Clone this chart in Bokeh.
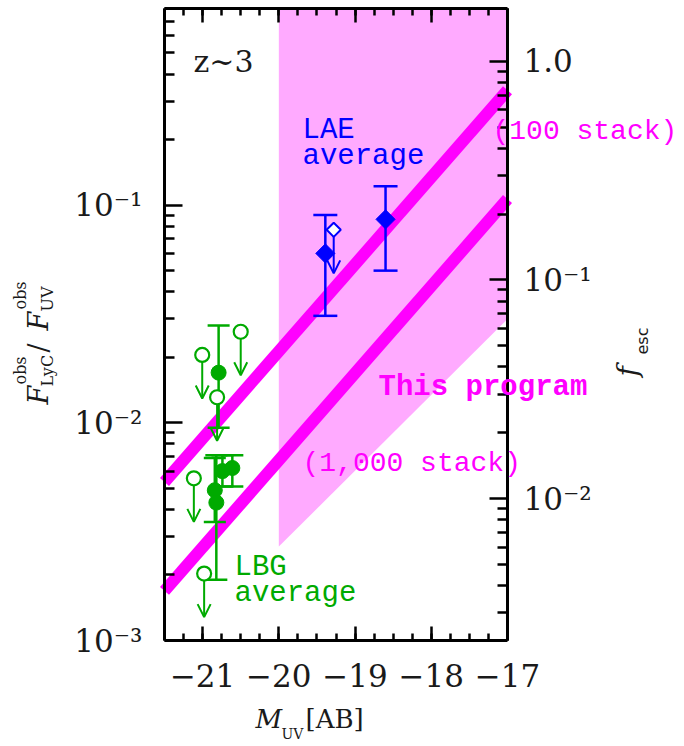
import numpy as np
from bokeh.plotting import figure
from bokeh.models import (Range1d, LogScale, LogAxis, LinearAxis, FixedTicker,
                          CustomJSTickFormatter, ColumnDataSource, Whisker, TeeHead,
                          Arrow, OpenHead, Label)
from bokeh.embed import file_html
from bokeh.resources import INLINE

# ---------------- data ----------------
x_ticks = [-21, -20, -19, -18, -17]
x_tick_labels = ["−21", "−20", "−19", "−18", "−17"]
y_ticks = [0.001, 0.01, 0.1]
y_tick_labels = ["10⁻³", "10⁻²", "10⁻¹"]
fesc_ticks = [0.01, 0.1, 1.0]
fesc_tick_labels = ["10⁻²", "10⁻¹", "1.0"]

limit_mag = [-21.5, -17.0]
limit_100_stack = [0.00535, 0.337]
limit_1000_stack = [0.00169, 0.1066]

program_mag = [-20.0, -17.0]
program_floor = [0.0027, 0.030]

lae_mag = [-19.39, -18.60]
lae_ratio = [0.060, 0.086]
lae_err_lo = [0.031, 0.050]
lae_err_hi = [0.090, 0.122]
lae_lim_mag = [-19.28]
lae_lim_ratio = [0.077]

lbg_mag = [-20.79, -20.61, -20.74, -20.84, -20.82]
lbg_ratio = [0.017, 0.0062, 0.0060, 0.0049, 0.0043]
lbg_err_lo = [0.0095, 0.0051, 0.0051, 0.0035, 0.0019]
lbg_err_hi = [0.028, 0.0071, 0.0071, 0.0069, 0.0071]
lbg_lim_mag = [-20.50, -21.005, -20.81, -21.115, -20.98]
lbg_lim_ratio = [0.0262, 0.0205, 0.0131, 0.00556, 0.00203]

ARROW_DEX = 0.2  # length of upper-limit arrows

# ---------------- layout ----------------
W, H = 684, 746
FL, FR, FT, FB = 164, 507, 8, 640          # visible plot box in pixels
X0, X1 = -21.5, -17.0
Y0, Y1 = 1e-3, 0.8
F0, F1 = 0.002242, 1.742


def px2x(px):
    return X0 + (px - FL) / (FR - FL) * (X1 - X0)


def px2y(py, lo=Y0, hi=Y1):
    l0, l1 = np.log10(lo), np.log10(hi)
    return 10 ** (l1 - (py - FT) / (FB - FT) * (l1 - l0))


# the frame spans the whole canvas; axes are pinned to the plot box
p = figure(width=W, height=H,
           x_range=Range1d(px2x(0), px2x(W)),
           y_range=Range1d(px2y(H), px2y(0)),
           y_axis_type="log", output_backend="svg", toolbar_location=None,
           min_border=0)
p.xgrid.visible = False
p.ygrid.visible = False
p.outline_line_color = None
p.background_fill_color = "white"
p.border_fill_color = "white"
p.extra_y_ranges = {"fesc": Range1d(px2y(H, F0, F1), px2y(0, F0, F1))}
p.extra_y_scales = {"fesc": LogScale()}

LIN_CODE = """
let b = 0;
for (let i = 0; i < vals.length; i++) {
  if (Math.abs(vals[i] - tick) < Math.abs(vals[b] - tick)) b = i;
}
return labs[b];
"""
LOG_CODE = """
let b = 0;
for (let i = 0; i < vals.length; i++) {
  if (Math.abs(Math.log(vals[i] / tick)) < Math.abs(Math.log(vals[b] / tick))) b = i;
}
return labs[b];
"""

x_minor = list(np.arange(-21.5, -16.99, 0.25))
y_minor = [k * 10.0 ** e for e in (-3, -2, -1) for k in range(2, 10) if k * 10.0 ** e <= Y1]
f_minor = [k * 10.0 ** e for e in (-3, -2, -1) for k in range(2, 10) if k * 10.0 ** e >= F0]

TICK_FONT = "DejaVu Serif"


def style(ax, major_in, minor_in, standoff, size="31px"):
    ax.axis_line_color = "black"
    ax.axis_line_width = 3
    ax.major_tick_in = major_in
    ax.major_tick_out = 0
    ax.minor_tick_in = minor_in
    ax.minor_tick_out = 0
    ax.major_tick_line_width = 2.5
    ax.minor_tick_line_width = 2.5
    ax.major_tick_line_color = "black"
    ax.minor_tick_line_color = "black"
    ax.major_label_standoff = standoff
    ax.major_label_text_font = TICK_FONT
    ax.major_label_text_font_size = size
    ax.major_label_text_color = "#1a1a1a"


xa = p.xaxis[0]
xa.ticker = FixedTicker(ticks=x_ticks, minor_ticks=x_minor)
xa.formatter = CustomJSTickFormatter(args=dict(vals=x_ticks, labs=x_tick_labels), code=LIN_CODE)
xa.fixed_location = Y0
xa.bounds = (X0, X1)
style(xa, 14, 7, 23)

ya = p.yaxis[0]
ya.ticker = FixedTicker(ticks=y_ticks, minor_ticks=y_minor)
ya.formatter = CustomJSTickFormatter(args=dict(vals=y_ticks, labs=y_tick_labels), code=LOG_CODE)
ya.fixed_location = X0
ya.bounds = (Y0, Y1)
style(ya, 18, 10, 22)

top = LinearAxis(ticker=FixedTicker(ticks=x_ticks, minor_ticks=x_minor),
                 formatter=CustomJSTickFormatter(code="return '';"),
                 fixed_location=Y1, bounds=(X0, X1))
style(top, 14, 7, 0, size="0px")
p.add_layout(top, "above")

ra = LogAxis(y_range_name="fesc", ticker=FixedTicker(ticks=fesc_ticks, minor_ticks=f_minor),
             formatter=CustomJSTickFormatter(args=dict(vals=fesc_ticks, labs=fesc_tick_labels),
                                             code=LOG_CODE),
             fixed_location=X1, bounds=(F0, F1))
style(ra, 18, 10, 16)
p.add_layout(ra, "right")

# ---------------- marks ----------------
MAG = "#ff00ff"
PINK = "#ffaaff"
BLUE = "#0000ff"
GREEN = "#00aa00"

band_x = [program_mag[0], program_mag[1], program_mag[1], program_mag[0]]
band_y = [program_floor[0], program_floor[1], Y1, Y1]
p.patch(band_x, band_y, fill_color=PINK, line_color=None, level="image")

p.line(limit_mag, limit_100_stack, line_color=MAG, line_width=12, level="image")
p.line(limit_mag, limit_1000_stack, line_color=MAG, line_width=12, level="image")

fac = 10 ** (-ARROW_DEX)

# LAE
lae_src = ColumnDataSource(dict(x=lae_mag, y=lae_ratio, lo=lae_err_lo, hi=lae_err_hi))
p.add_layout(Whisker(base="x", lower="lo", upper="hi", source=lae_src, dimension="height",
                     line_color=BLUE, line_width=2.5, level="underlay",
                     upper_head=TeeHead(size=24, line_color=BLUE, line_width=2.5),
                     lower_head=TeeHead(size=24, line_color=BLUE, line_width=2.5)))
lae_lim_src = ColumnDataSource(dict(x=lae_lim_mag, y=lae_lim_ratio,
                                    ye=[v * fac for v in lae_lim_ratio]))
p.add_layout(Arrow(x_start="x", y_start="y", x_end="x", y_end="ye", source=lae_lim_src,
                   line_color=BLUE, line_width=2, level="underlay",
                   end=OpenHead(size=13, line_color=BLUE, line_width=2)))
p.scatter("x", "y", source=lae_src, marker="square", angle=np.pi / 4, size=13.5,
          fill_color=BLUE, line_color=BLUE)
p.scatter("x", "y", source=lae_lim_src, marker="square", angle=np.pi / 4, size=10,
          fill_color="white", line_color=BLUE, line_width=2)

# LBG
lbg_src = ColumnDataSource(dict(x=lbg_mag, y=lbg_ratio, lo=lbg_err_lo, hi=lbg_err_hi))
p.add_layout(Whisker(base="x", lower="lo", upper="hi", source=lbg_src, dimension="height",
                     line_color=GREEN, line_width=2.5, level="underlay",
                     upper_head=TeeHead(size=22, line_color=GREEN, line_width=2.5),
                     lower_head=TeeHead(size=22, line_color=GREEN, line_width=2.5)))
lbg_lim_src = ColumnDataSource(dict(x=lbg_lim_mag, y=lbg_lim_ratio,
                                    ye=[v * fac for v in lbg_lim_ratio]))
p.add_layout(Arrow(x_start="x", y_start="y", x_end="x", y_end="ye", source=lbg_lim_src,
                   line_color=GREEN, line_width=2, level="underlay",
                   end=OpenHead(size=13, line_color=GREEN, line_width=2)))
p.scatter("x", "y", source=lbg_src, marker="circle", size=15,
          fill_color=GREEN, line_color=GREEN)
p.scatter("x", "y", source=lbg_lim_src, marker="circle", size=14,
          fill_color="white", line_color=GREEN, line_width=2.2)


# ---------------- text ----------------
def lab(text, px, py, size, font="DejaVu Serif", style_="normal", color="#1a1a1a", angle=0.0):
    # px, py: wanted baseline start in pixels; compensate the renderer's baseline offset
    if angle == 0.0:
        py = py - 0.33 * size
    else:
        px = px - 0.33 * size
    p.add_layout(Label(x=px2x(px), y=px2y(py), text=text, text_font=font,
                       text_font_size=f"{size}px", text_font_style=style_,
                       text_color=color, angle=angle,
                       text_align="left", text_baseline="alphabetic"))


MONO = "Liberation Mono"
lab("z∼3", 193, 71, 30)
lab("LAE", 302, 140, 29, MONO, color=BLUE)
lab("average", 302, 166, 29, MONO, color=BLUE)
lab("LBG", 234, 577, 29, MONO, color=GREEN)
lab("average", 234, 603, 29, MONO, color=GREEN)
lab("This program", 378, 397, 29, MONO, "bold", MAG)
lab("(1,000 stack)", 302, 472, 28, MONO, color=MAG)
lab("(100 stack)", 492, 140, 28, MONO, color=MAG)

# x-axis label
lab("M", 255, 727, 26, style_="italic")
lab("UV", 281, 738, 14)
lab("[AB]", 305, 727, 26)

# left axis label (rotated)
R = np.pi / 2
lab("F", 47, 404, 27, style_="italic", angle=R)
lab("obs", 25, 384, 16, angle=R)
lab("LyC", 52, 386, 16, angle=R)
lab("/", 47, 352, 27, angle=R)
lab("F", 47, 330, 27, style_="italic", angle=R)
lab("obs", 25, 309, 16, angle=R)
lab("UV", 52, 311, 16, angle=R)

# right axis label (rotated)
lab("f", 636, 376, 28, style_="italic", angle=R)
lab("esc", 647, 354, 16, font="DejaVu Sans", angle=R)

open("out.html", "w").write(file_html(p, INLINE))
